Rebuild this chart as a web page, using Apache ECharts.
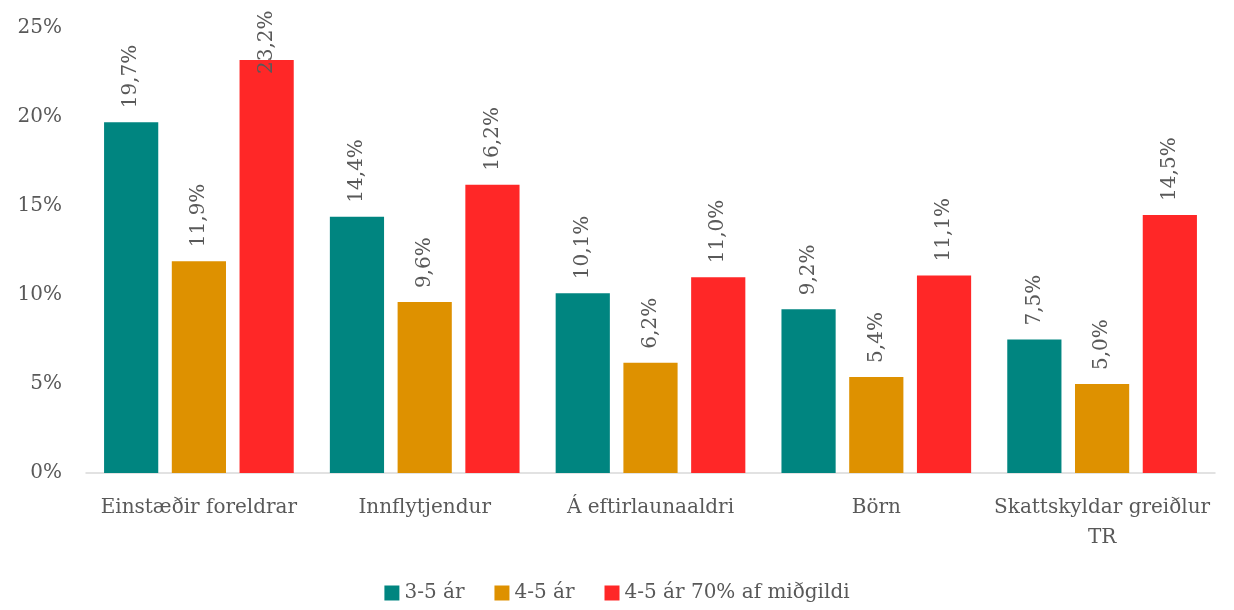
<!DOCTYPE html>
<html><head><meta charset="utf-8">
<script src="https://cdn.jsdelivr.net/npm/echarts@6/dist/echarts.min.js"></script>
<style>html,body{margin:0;padding:0;background:#fff}#c{width:1234px;height:610px}</style>
</head><body><div id="c"></div>
<script>
const categories = ['Einstæðir foreldrar', 'Innflytjendur', 'Á eftirlaunaaldri', 'Börn', 'Skattskyldar greiðlur\nTR'];
const seriesNames = ['3-5 ár', '4-5 ár', '4-5 ár 70% af miðgildi'];
const s35 = [19.7, 14.4, 10.1, 9.2, 7.5];
const s45 = [11.9, 9.6, 6.2, 5.4, 5.0];
const s45m = [23.2, 16.2, 11.0, 11.1, 14.5];
const yTicks = [0, 5, 10, 15, 20, 25];

const colors = ['#008580', '#DE9100', '#FF2727'];
const font = 'DejaVu Serif';
const txt = '#595959';
const fmt = v => v.toFixed(1).replace('.', ',') + '%';

function mk(name, data, color) {
  return {
    name, type: 'bar', barWidth: '24%', barGap: '25%',
    itemStyle: {color},
    data: data.map(v => {
      const d = {value: v};
      if (v > 22) d.label = {distance: -14};
      return d;
    }),
    label: {show: true, position: 'top', rotate: 90, align: 'left', verticalAlign: 'middle', distance: 14,
      fontFamily: font, fontSize: 20, color: txt, formatter: p => fmt(p.value)}
  };
}

const chart = echarts.init(document.getElementById('c'));
chart.setOption({
  animation: false,
  grid: {left: 86, right: 19, top: 28, bottom: 137},
  legend: {bottom: 2, left: 'center', icon: 'rect', itemWidth: 15, itemHeight: 15, itemGap: 30,
    textStyle: {fontFamily: font, fontSize: 20, color: txt}, data: seriesNames},
  xAxis: {type: 'category', data: categories,
    axisLine: {lineStyle: {color: '#d9d9d9', width: 1.5}}, axisTick: {show: false},
    axisLabel: {fontFamily: font, fontSize: 20, color: txt, margin: 20, lineHeight: 30, interval: 0}},
  yAxis: {type: 'value', min: yTicks[0], max: yTicks[yTicks.length - 1], interval: 5,
    splitLine: {show: false}, axisLine: {show: false}, axisTick: {show: false},
    axisLabel: {fontFamily: font, fontSize: 20, color: txt, margin: 24, formatter: '{value}%'}},
  series: [mk(seriesNames[0], s35, colors[0]), mk(seriesNames[1], s45, colors[1]), mk(seriesNames[2], s45m, colors[2])]
});
</script></body></html>
